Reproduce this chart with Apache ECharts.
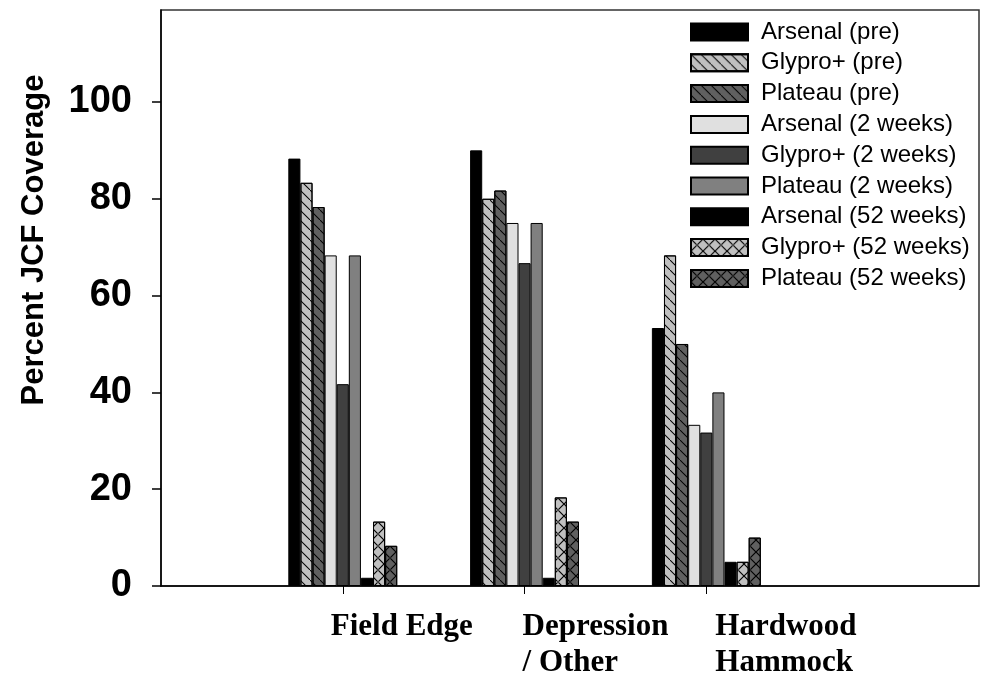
<!DOCTYPE html>
<html><head><meta charset="utf-8">
<script src="https://cdn.jsdelivr.net/npm/echarts@6/dist/echarts.min.js"></script>
<style>html,body{margin:0;padding:0;background:#fff}#c{width:981px;height:675px}</style>
</head><body><div id="c"></div>
<script>
// ---- data ----
const categories = ['Field Edge', 'Depression\n/ Other', 'Hardwood\nHammock'];
const categoryPositions = [1, 2, 3];
const yTicks = [0, 20, 40, 60, 80, 100];
const seriesNames = ['Arsenal (pre)', 'Glypro+ (pre)', 'Plateau (pre)',
  'Arsenal (2 weeks)', 'Glypro+ (2 weeks)', 'Plateau (2 weeks)',
  'Arsenal (52 weeks)', 'Glypro+ (52 weeks)', 'Plateau (52 weeks)'];
const arsenalPre = [88.3, 90.0, 53.3];
const glyproPre = [83.3, 80.0, 68.3];
const plateauPre = [78.3, 81.7, 50.0];
const arsenal2wk = [68.3, 75.0, 33.3];
const glypro2wk = [41.7, 66.7, 31.7];
const plateau2wk = [68.3, 75.0, 40.0];
const arsenal52wk = [1.7, 1.7, 5.0];
const glypro52wk = [13.3, 18.3, 5.0];
const plateau52wk = [8.3, 13.3, 10.0];
const seriesValues = [arsenalPre, glyproPre, plateauPre, arsenal2wk, glypro2wk, plateau2wk, arsenal52wk, glypro52wk, plateau52wk];

// ---- styles / layout ----
const X_MAX = 4.5;
const GRID_LEFT = 161, GRID_RIGHT = 2;
const PX_PER_UNIT = (981 - GRID_LEFT - GRID_RIGHT) / X_MAX;
const labelShiftPx = [-12, -2, 9]; // label anchor offsets relative to ticks
const labelAnchors = categoryPositions.map((p, i) => p + labelShiftPx[i] / PX_PER_UNIT);

const HATCH = 'path://M0,0 L0.7,0 L10,9.3 L10,10 L9.3,10 L0,0.7 Z';
const CROSS = 'path://M0,0 L0.7,0 L10,9.3 L10,10 L9.3,10 L0,0.7 Z M10,0 L9.3,0 L0,9.3 L0,10 L0.7,10 L10,0.7 Z';
function decal(sym, size) {
  return { symbol: sym, symbolSize: 1, symbolKeepAspect: false, dashArrayX: [size, 0], dashArrayY: [size, 0], rotation: 0, color: '#000', backgroundColor: null };
}
const styles = [
  { color: '#000000' },
  { color: '#c0c0c0', decal: decal(HATCH, 10) },
  { color: '#606060', decal: decal(HATCH, 10) },
  { color: '#e0e0e0' },
  { color: '#404040' },
  { color: '#808080' },
  { color: '#000000' },
  { color: '#c0c0c0', decal: decal(CROSS, 12) },
  { color: '#606060', decal: decal(CROSS, 12) }
];

const series = seriesNames.map((name, i) => ({
  name: name,
  type: 'bar',
  barWidth: 12.1,
  barGap: '0%',
  data: seriesValues[i].map((v, j) => [categoryPositions[j], v]),
  itemStyle: Object.assign({ borderColor: '#000', borderWidth: 1 }, styles[i])
}));

const chart = echarts.init(document.getElementById('c'), null, { renderer: 'canvas' });
chart.setOption({
  animation: false,
  aria: { enabled: false },
  grid: { left: GRID_LEFT, right: GRID_RIGHT, top: 10, bottom: 89, outerBoundsMode: 'none', containLabel: false, show: true, borderColor: '#333', borderWidth: 1.5, backgroundColor: 'transparent' },
  legend: {
    orient: 'vertical', left: 690, top: 20, padding: 0,
    icon: 'rect', itemWidth: 57, itemHeight: 17, itemGap: 6.8,
    textStyle: { fontFamily: 'Liberation Sans', fontSize: 24, color: '#000', lineHeight: 24, padding: [0, 0, 0, 8] },
    data: seriesNames
  },
  xAxis: {
    type: 'value', min: 0, max: X_MAX,
    splitLine: { show: false },
    axisLine: { show: true, lineStyle: { color: '#000', width: 1.5 } },
    axisTick: { show: true, customValues: categoryPositions, length: 8, lineStyle: { color: '#000', width: 1 } },
    axisLabel: {
      customValues: labelAnchors,
      formatter: v => categories[Math.round(v) - 1] || '',
      align: 'left', margin: 23,
      fontFamily: 'Liberation Serif', fontWeight: 'bold', fontSize: 31, lineHeight: 36, color: '#000'
    }
  },
  yAxis: {
    type: 'value', min: 0, max: 119, interval: 20,
    name: 'Percent JCF Coverage', nameLocation: 'middle', nameGap: 111,
    nameTextStyle: { fontFamily: 'Liberation Sans', fontWeight: 'bold', fontSize: 31, color: '#000', padding: [0, 0, 0, 116] },
    splitLine: { show: false },
    axisLine: { show: true, lineStyle: { color: '#000', width: 1.5 } },
    axisTick: { show: true, customValues: yTicks, length: 9, lineStyle: { color: '#000', width: 1.5 } },
    axisLabel: { customValues: yTicks, margin: 29, fontFamily: 'Liberation Sans', fontWeight: 'bold', fontSize: 38, color: '#000' }
  },
  series: series
});
</script></body></html>
